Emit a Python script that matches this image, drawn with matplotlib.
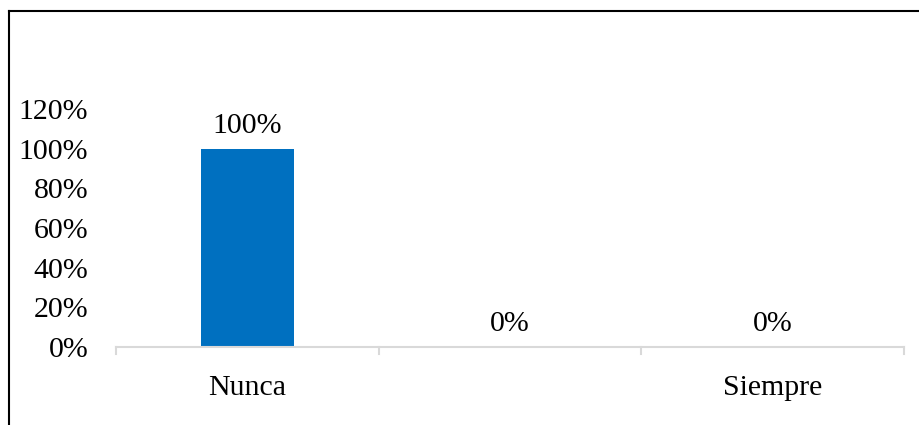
import matplotlib
matplotlib.use("Agg")
import matplotlib.pyplot as plt
from matplotlib.lines import Line2D

categories = ["Nunca", "", "Siempre"]
values = [1.00, 0.00, 0.00]
value_labels = ["100%", "0%", "0%"]
yticks = [0.0, 0.2, 0.4, 0.6, 0.8, 1.0, 1.2]
ytick_labels = ["0%", "20%", "40%", "60%", "80%", "100%", "120%"]

plt.rcParams['font.family'] = ['Liberation Serif', 'DejaVu Serif']

FS = 21.5
W, H = 920, 425
fig = plt.figure(figsize=(W / 100, H / 100), dpi=100)
ax = fig.add_axes([116 / W, 1 - 347 / H, (904 - 116) / W, (347 - 109) / H])

x = list(range(len(categories)))
ax.bar(x, values, width=0.355, color="#0070C0")
ax.set_xlim(-0.5, len(categories) - 0.5)
ax.set_ylim(0, 1.2)
ax.set_yticks(yticks)
ax.set_yticklabels(ytick_labels, fontsize=FS)
ax.set_xticks(x)
ax.set_xticklabels(categories, fontsize=FS)
ax.tick_params(axis='y', length=0, pad=20)
ax.tick_params(axis='x', length=0, pad=20)
for s in ["top", "right", "left"]:
    ax.spines[s].set_visible(False)
ax.spines["bottom"].set_color("#d9d9d9")
ax.spines["bottom"].set_linewidth(1.5)
# category boundary ticks
for b in [-0.5, 0.5, 1.5, 2.5]:
    ax.plot([b, b], [0, -0.035], color="#d9d9d9", lw=1.5, clip_on=False)

for xi, v, lab in zip(x, values, value_labels):
    ax.annotate(lab, (xi, v), xytext=(0, 7), textcoords="offset points",
                ha="center", va="bottom", fontsize=FS)

# outer frame (cropped chart border)
fig.add_artist(Line2D([9 / W, 1.0], [1 - 11 / H, 1 - 11 / H], color="black", lw=1.5, transform=fig.transFigure))
fig.add_artist(Line2D([9 / W, 9 / W], [1 - 11 / H, 0.0], color="black", lw=1.5, transform=fig.transFigure))

fig.savefig("out.png", dpi=100)
